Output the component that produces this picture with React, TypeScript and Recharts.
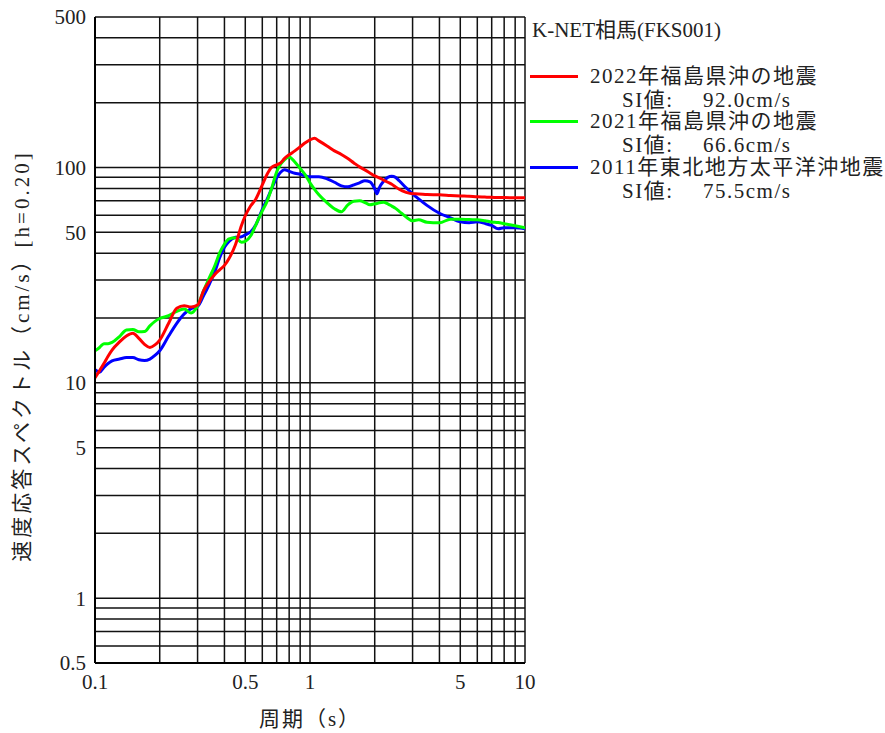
import { LineChart, Line, XAxis, YAxis, CartesianGrid, Legend } from 'recharts';

// periods (s) shared by all three spectra
const periods = [
  0.1, 0.105, 0.11, 0.115, 0.12, 0.13, 0.14, 0.15, 0.16, 0.17, 0.18, 0.19, 0.2,
  0.22, 0.24, 0.26, 0.28, 0.3, 0.32, 0.34, 0.36, 0.38, 0.4, 0.42, 0.45, 0.48, 0.5,
  0.53, 0.56, 0.6, 0.63, 0.66, 0.7, 0.73, 0.76, 0.8, 0.85, 0.9, 0.95, 1.0, 1.05,
  1.1, 1.2, 1.3, 1.4, 1.5, 1.6, 1.7, 1.8, 1.9, 2.0, 2.05, 2.1, 2.2, 2.3, 2.4, 2.5,
  2.6, 2.8, 3.0, 3.2, 3.5, 4.0, 4.5, 5.0, 5.5, 6.0, 6.5, 7.0, 7.5, 8.0, 9.0, 10.0,
];

// velocity response (cm/s), h=0.20
const eq2022 = [
  10.55, 11.4, 12.3, 13.3, 14.2, 15.5, 16.5, 17.0, 16.1, 15.1, 14.6, 15.0, 15.8,
  18.9, 22.2, 22.8, 22.5, 23.0, 26.8, 29.6, 31.8, 33.5, 35.1, 37.8, 43.8, 53.8, 59.7,
  66.4, 71.5, 83.1, 92.5, 99.7, 102.9, 105, 110, 114.6, 119.5, 124.8, 130.2, 134.5, 136.7,
  133, 126, 119.5, 115, 110, 105, 100.7, 97.5, 94.3, 91.4, 90.5, 89.6, 87.4, 85.4, 83.6, 81.3,
  79.2, 76.7, 75.5, 75.4, 74.9, 74.7, 74.2, 73.8, 73.5, 73.1, 72.9, 72.7, 72.6, 72.5, 72.4, 72.3,
];

const eq2021 = [
  14.1, 14.6, 15.2, 15.2, 15.4, 16.4, 17.6, 17.7, 17.25, 17.3, 18.4, 19.3, 19.9,
  20.5, 21.5, 22.0, 21.1, 22.8, 26.8, 30.7, 34.8, 40.1, 44.1, 46.6, 47.2, 45.0, 45.4,
  48.2, 54.2, 62.9, 69.3, 78.8, 95.5, 103.5, 108.6, 112, 106, 99, 92.5, 84.9, 79.2,
  74.7, 68.6, 64.3, 62.3, 67.1, 69.7, 70, 68.8, 67.1, 67.8, 68, 68.6, 69.0, 67.8, 66.2, 64.6,
  62.6, 58.9, 56.6, 57.2, 55.7, 55.4, 57.5, 57.5, 57.3, 57.2, 56.6, 55.9, 55.5, 54.8, 53.6, 52.5,
];

const eq2011 = [
  11.5, 11.2, 11.8, 12.3, 12.65, 12.9, 13.1, 13.1, 12.8, 12.7, 12.9, 13.4, 14.1,
  16.5, 18.9, 20.9, 22.1, 22.6, 25.4, 28.7, 32.6, 38.1, 42.6, 45.4, 47.4, 47.7, 48.7,
  50.3, 54.2, 63.9, 70.8, 78.8, 89.6, 95, 97.6, 96, 94, 93, 91.5, 90.5, 90.5,
  90.5, 88.6, 85.4, 82.2, 81.3, 83.1, 84.9, 86.8, 85.8, 79.7, 75.5, 80.5, 86.3, 90, 91, 90,
  86.8, 80.5, 75.5, 71.5, 66.7, 61.3, 58.4, 55.95, 55.4, 55.95, 55.0, 53.8, 51.9, 52.5, 52.5, 51.9,
];

const stationName = 'K-NET相馬(FKS001)';
const seriesKeys = ['eq2022', 'eq2021', 'eq2011'];
const seriesNames = ['2022年福島県沖の地震', '2021年福島県沖の地震', '2011年東北地方太平洋沖地震'];
const seriesColors = ['#ff0000', '#00ff00', '#0000ff'];
const siValues = ['92.0', '66.6', '75.5'];

const xTicks = [0.1, 0.2, 0.3, 0.4, 0.5, 0.6, 0.7, 0.8, 0.9, 1, 2, 3, 4, 5, 6, 7, 8, 9, 10];
const xLabelTicks = [0.1, 0.5, 1, 5, 10];
const yTicks = [
  0.5, 0.6, 0.7, 0.8, 0.9, 1, 2, 3, 4, 5, 6, 7, 8, 9, 10, 20, 30, 40, 50, 60, 70, 80, 90,
  100, 200, 300, 400, 500,
];
const yLabelTicks = [0.5, 1, 5, 10, 50, 100, 500];

const FONT = "'Liberation Serif', 'Noto Sans CJK JP', serif";
const TEXT = '#222';

const rows = periods.map((p, i) => ({
  period: p,
  eq2022: eq2022[i],
  eq2021: eq2021[i],
  eq2011: eq2011[i],
}));

function SpectrumLegend() {
  const line = { position: 'absolute' as const, whiteSpace: 'nowrap' as const, height: 21, lineHeight: '21px' };
  return (
    <div
      style={{
        position: 'relative',
        width: 355,
        height: 210,
        fontFamily: FONT,
        fontSize: 21,
        color: TEXT,
      }}
    >
      <div style={{ ...line, left: 2, top: 20 }}>{stationName}</div>
      {seriesKeys.map((k, i) => {
        const top = 65.5 + i * 45.5;
        return (
          <div key={k}>
            <div
              style={{
                position: 'absolute',
                left: 0,
                top: top + 9,
                width: 48,
                height: 3,
                background: seriesColors[i],
              }}
            />
            <div style={{ ...line, left: 60, top, letterSpacing: 1.5 }}>{seriesNames[i]}</div>
            <div style={{ ...line, left: 92, top: top + 24, letterSpacing: 1.5 }}>SI値:</div>
            <div style={{ ...line, left: 173, top: top + 24, letterSpacing: 1.5 }}>
              {siValues[i]}cm/s
            </div>
          </div>
        );
      })}
    </div>
  );
}

export default function App() {
  const tick = { fontSize: 21, fill: TEXT, fontFamily: FONT };
  return (
    <div style={{ position: 'absolute', left: 0, top: 0, width: 885, height: 733, background: '#fff' }}>
      <LineChart
        width={885}
        height={733}
        data={rows}
        margin={{ top: 17, right: 360, bottom: 30, left: 15 }}
      >
        <CartesianGrid stroke="#111" strokeWidth={1.5} />
        <XAxis
          dataKey="period"
          type="number"
          scale="log"
          domain={[0.1, 10]}
          allowDataOverflow
          ticks={xTicks}
          interval={0}
          tickFormatter={(v: number) => (xLabelTicks.includes(v) ? String(v) : '')}
          tick={tick}
          tickLine={false}
          tickMargin={5}
          height={40}
          axisLine={{ stroke: '#000', strokeWidth: 2 }}
          label={(props: any) => {
            const vb = props.viewBox;
            return (
              <text
                x={vb.x + vb.width / 2}
                y={719}
                textAnchor="middle"
                dominantBaseline="central"
                fontSize={21}
                fontFamily={FONT}
                letterSpacing={2}
                fill={TEXT}
              >
                周期（s）
              </text>
            );
          }}
        />
        <YAxis
          type="number"
          scale="log"
          domain={[0.5, 500]}
          allowDataOverflow
          ticks={yTicks}
          interval={0}
          tickFormatter={(v: number) => (yLabelTicks.includes(v) ? String(v) : '')}
          tick={tick}
          tickLine={false}
          tickMargin={3}
          width={80}
          axisLine={{ stroke: '#000', strokeWidth: 2 }}
          label={(props: any) => {
            const vb = props.viewBox;
            const cx = vb.x + 7;
            const cy = vb.y + vb.height / 2 + 16;
            return (
              <text
                x={cx}
                y={cy}
                transform={`rotate(-90 ${cx} ${cy})`}
                textAnchor="middle"
                dominantBaseline="central"
                fontSize={21}
                fontFamily={FONT}
                letterSpacing={3}
                fill={TEXT}
              >
                速度応答スペクトル（cm/s）[h=0.20]
              </text>
            );
          }}
        />
        <Legend
          content={<SpectrumLegend />}
          layout="horizontal"
          verticalAlign="middle"
          align="center"
          wrapperStyle={{ left: 530, top: 0, width: 355, height: 210 }}
        />
        {[2, 1, 0].map((i) => (
          <Line
            key={seriesKeys[i]}
            dataKey={seriesKeys[i]}
            name={seriesNames[i]}
            stroke={seriesColors[i]}
            strokeWidth={3}
            type="monotone"
            dot={false}
            activeDot={false}
            isAnimationActive={false}
          />
        ))}
      </LineChart>
    </div>
  );
}
